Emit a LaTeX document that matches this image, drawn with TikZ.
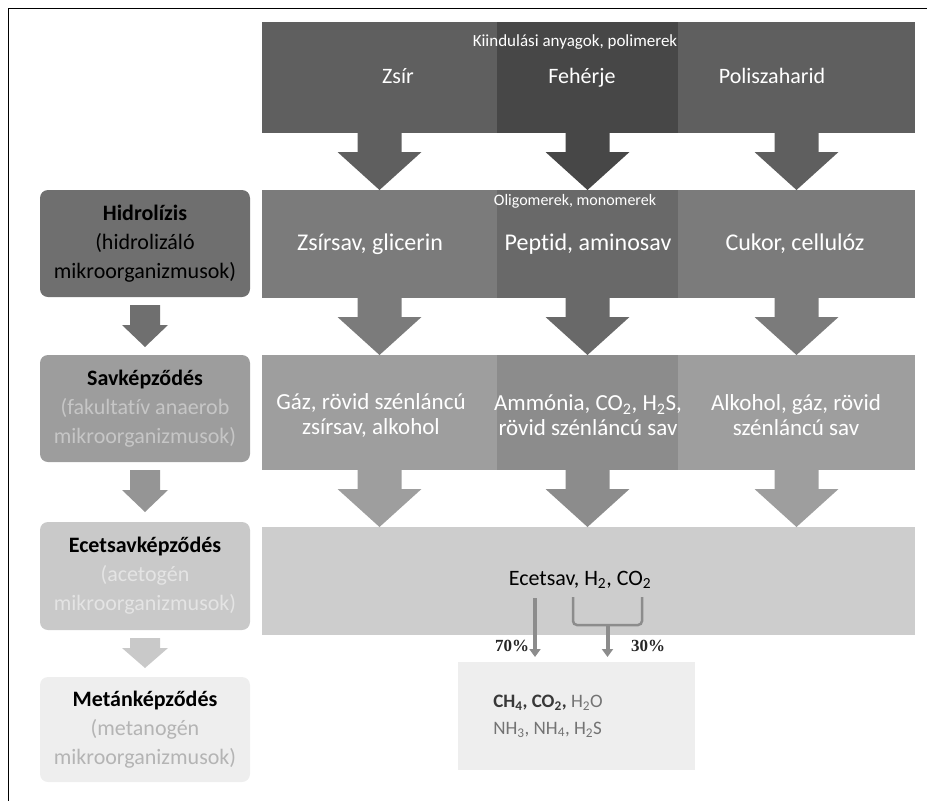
\documentclass[tikz,border=0pt]{standalone}
\usepackage{fontspec}
\setmainfont{Carlito}[Ligatures=NoCommon]
\newfontfamily\pctfont{Liberation Serif}
\usetikzlibrary{positioning,calc,arrows.meta}

\definecolor{rowA}{HTML}{5F5F5F}
\definecolor{rowAd}{HTML}{474747}
\definecolor{rowB}{HTML}{7B7B7B}
\definecolor{rowBd}{HTML}{696969}
\definecolor{rowC}{HTML}{9E9E9E}
\definecolor{rowCd}{HTML}{8C8C8C}
\definecolor{rowD}{HTML}{CDCDCD}
\definecolor{rowE}{HTML}{EEEEEE}
\definecolor{stepA}{HTML}{6F6F6F}
\definecolor{stepB}{HTML}{9D9D9D}
\definecolor{stepC}{HTML}{C9C9C9}
\definecolor{stepD}{HTML}{EEEEEE}
\definecolor{connc}{HTML}{8C8C8C}

% block arrow: colour, half shaft, half head, head length, from, to
\newcommand{\blockarrow}[6]{%
  \fill[#1] let \p1=(#5), \p2=(#6) in
    (\x1-#2pt,\y1) -- (\x1+#2pt,\y1) -- (\x1+#2pt,\y2+#4pt) -- (\x1+#3pt,\y2+#4pt)
    -- (\x1,\y2) -- (\x1-#3pt,\y2+#4pt) -- (\x1-#2pt,\y2+#4pt) -- cycle;
}

\begin{document}
\begin{tikzpicture}[x=1pt,y=-1pt,
  cell/.style={fill=#1, draw=none, inner sep=0, outer sep=0, anchor=north west},
  stepbox/.style={fill=#1, draw=none, rounded corners=8pt, inner sep=0, outer sep=0,
    anchor=north west, minimum width=210pt},
  txt/.style={font=\fontsize{22}{25}\selectfont, align=center, text=white, inner sep=0},
  small/.style={font=\fontsize{17}{19}\selectfont, text=white, inner sep=0},
  steptxt/.style={font=\fontsize{22}{29}\selectfont, align=center, inner sep=0},
  conn/.style={draw=connc, line width=4pt, -{Triangle[width=11pt,length=8pt]}, shorten >=5pt},
  brk/.style={draw=connc, line width=2.5pt, rounded corners=4pt},
  pct/.style={font=\pctfont\bfseries\fontsize{17}{19}\selectfont, text=black!85, inner sep=0}]
\useasboundingbox (0,0) rectangle (927,801);
\draw[line width=1pt] (8,801) -- (8,8) -- (927,8);

% starting materials
\node[cell=rowA, minimum width=235pt, minimum height=111pt] (zsirA) at (262,22) {};
\node[cell=rowAd, minimum width=181pt, minimum height=111pt] (fehA) at (497,22) {};
\node[cell=rowA, minimum width=237pt, minimum height=111pt] (poliA) at (678,22) {};
\node[small] (polim) at (575,42) {Kiindulási anyagok, polimerek};
\node[txt, anchor=base] at (398,83) {Zsír};
\node[txt, anchor=base] at (582,83) {Fehérje};
\node[txt, anchor=base] at (772,83) {Poliszaharid};

% hydrolysis products
\node[cell=rowB, minimum width=235pt, minimum height=108pt] (zsirB) at (262,190) {};
\node[cell=rowBd, minimum width=181pt, minimum height=108pt] (fehB) at (497,190) {};
\node[cell=rowB, minimum width=237pt, minimum height=108pt] (poliB) at (678,190) {};
\node[small, font=\fontsize{16}{18}\selectfont] (oligo) at (575,201) {Oligomerek, monomerek};
\node[txt, font=\fontsize{24}{27}\selectfont, anchor=base] at (370,250) {Zsírsav, glicerin};
\node[txt, font=\fontsize{24}{27}\selectfont, anchor=base] at (588,250) {Peptid, aminosav};
\node[txt, font=\fontsize{24}{27}\selectfont, anchor=base] at (795,250) {Cukor, cellulóz};

% acidogenesis products
\node[cell=rowC, minimum width=235pt, minimum height=115pt] (zsirC) at (262,355) {};
\node[cell=rowCd, minimum width=181pt, minimum height=115pt] (fehC) at (497,355) {};
\node[cell=rowC, minimum width=237pt, minimum height=115pt] (poliC) at (678,355) {};
\node[txt, font=\fontsize{23}{25}\selectfont] at (371,415) {Gáz, rövid szénláncú\\zsírsav, alkohol};
\node[txt, font=\fontsize{23}{25}\selectfont] at (588,415) {Ammónia, CO\textsubscript{2}, H\textsubscript{2}S,\\rövid szénláncú sav};
\node[txt, font=\fontsize{23}{25}\selectfont] at (796,415) {Alkohol, gáz, rövid\\szénláncú sav};

% acetogenesis
\node[cell=rowD, minimum width=653pt, minimum height=108pt] (ecet) at (262,527) {};
\node[txt, text=black] (ecettxt) at (580,580) {Ecetsav, H\textsubscript{2}, CO\textsubscript{2}};

% methanogenesis
\node[cell=rowE, minimum width=237pt, minimum height=108pt] (meth) at (458,662) {};
\node[font=\fontsize{19}{27}\selectfont, align=left, inner sep=0, text=black!55] (methtxt) at (548,716)
  {\textbf{\textcolor{black!78}{CH\textsubscript{4}, CO\textsubscript{2},}} H\textsubscript{2}O\\NH\textsubscript{3}, NH\textsubscript{4}, H\textsubscript{2}S};

% column arrows
\blockarrow{rowA}{22}{42}{38}{zsirA.south}{zsirB.north}
\blockarrow{rowAd}{22}{42}{38}{fehA.south}{fehB.north}
\blockarrow{rowA}{22}{42}{38}{poliA.south}{poliB.north}
\blockarrow{rowB}{22}{42}{38}{zsirB.south}{zsirC.north}
\blockarrow{rowBd}{22}{42}{38}{fehB.south}{fehC.north}
\blockarrow{rowB}{22}{42}{38}{poliB.south}{poliC.north}
\blockarrow{rowC}{22}{42}{38}{zsirC.south}{zsirC.south |- ecet.north}
\blockarrow{rowCd}{22}{42}{38}{fehC.south}{fehC.south |- ecet.north}
\blockarrow{rowC}{22}{42}{38}{poliC.south}{poliC.south |- ecet.north}

% split into methane routes
\coordinate (c70) at (535,598);
\coordinate (bl) at (573,597);
\coordinate (br) at (642,597);
\draw[conn] (c70) -- (c70 |- meth.north);
\draw[brk] (bl) -- ++(0,28) -- ($(br)+(0,28)$) -- (br);
\coordinate (bm) at ($(bl)!0.5!(br)+(0,28)$);
\draw[conn] (bm) -- (bm |- meth.north);
\node[pct] (p70) at (512,646) {70\%};
\node[pct] (p30) at (648,646) {30\%};

% process steps
\node[stepbox=stepA, minimum height=107pt] (hidro) at (40,190) {};
\node[stepbox=stepB, minimum height=107pt] (sav) at (40,355) {};
\node[stepbox=stepC, minimum height=108pt] (acet) at (40,522) {};
\node[stepbox=stepD, minimum height=105pt] (metan) at (40,677) {};
\node[steptxt] at (hidro) {\textbf{Hidrolízis}\\(hidrolizáló\\mikroorganizmusok)};
\node[steptxt] at (sav) {\textbf{Savképződés}\\\textcolor[HTML]{C6C6C6}{(fakultatív anaerob}\\\textcolor[HTML]{C6C6C6}{mikroorganizmusok)}};
\node[steptxt] at (acet) {\textbf{Ecetsavképződés}\\\textcolor[HTML]{E4E4E4}{(acetogén}\\\textcolor[HTML]{E4E4E4}{mikroorganizmusok)}};
\node[steptxt] at (metan) {\textbf{Metánképződés}\\\textcolor[HTML]{B4B4B4}{(metanogén}\\\textcolor[HTML]{B4B4B4}{mikroorganizmusok)}};

\blockarrow{stepA}{15}{23}{22}{$(hidro.south)+(0,8)$}{$(sav.north)+(0,-8)$}
\blockarrow{stepB!95!black}{15}{23}{22}{$(sav.south)+(0,8)$}{$(acet.north)+(0,-10)$}
\blockarrow{stepC}{15}{23}{20}{$(acet.south)+(0,8)$}{$(metan.north)+(0,-9)$}
\end{tikzpicture}
\end{document}
